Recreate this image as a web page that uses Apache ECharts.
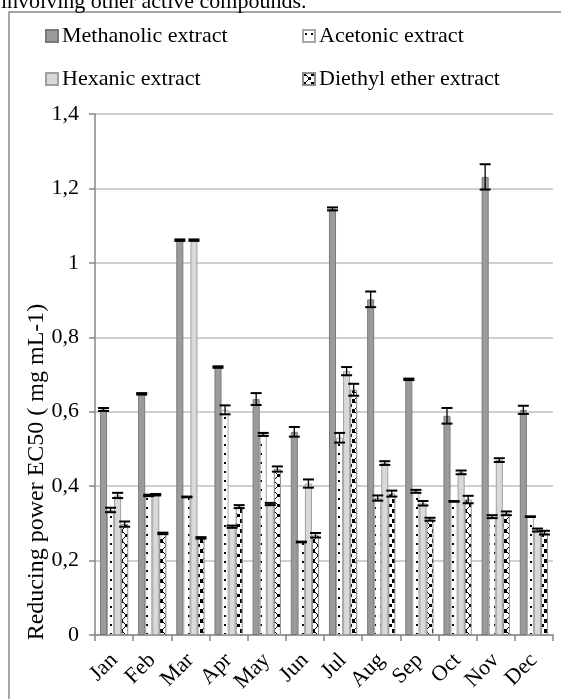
<!DOCTYPE html>
<html>
<head>
<meta charset="utf-8">
<script src="https://cdn.jsdelivr.net/npm/echarts@6/dist/echarts.min.js"></script>
<style>
html,body{margin:0;padding:0;background:#fff;}
#chart{width:561px;height:699px;}
</style>
</head>
<body>
<div id="chart"></div>
<script>
const months = ['Jan','Feb','Mar','Apr','May','Jun','Jul','Aug','Sep','Oct','Nov','Dec'];
const seriesNames = ['Methanolic extract','Acetonic extract','Hexanic extract','Diethyl ether extract'];
const methanolic    = [0.606, 0.648, 1.061, 0.720, 0.634, 0.546, 1.145, 0.902, 0.687, 0.589, 1.231, 0.605];
const methanolicErr = [0.004, 0.002, 0.002, 0.002, 0.016, 0.013, 0.004, 0.021, 0.002, 0.021, 0.034, 0.011];
const acetonic      = [0.336, 0.375, 0.371, 0.605, 0.539, 0.250, 0.530, 0.368, 0.386, 0.359, 0.318, 0.318];
const acetonicErr   = [0.006, 0.002, 0.001, 0.012, 0.004, 0.001, 0.013, 0.007, 0.004, 0.001, 0.004, 0.001];
const hexanic       = [0.375, 0.377, 1.061, 0.291, 0.352, 0.407, 0.709, 0.462, 0.354, 0.437, 0.470, 0.282];
const hexanicErr    = [0.007, 0.002, 0.002, 0.003, 0.003, 0.011, 0.011, 0.005, 0.006, 0.005, 0.005, 0.004];
const diethyl       = [0.298, 0.273, 0.261, 0.345, 0.446, 0.268, 0.659, 0.380, 0.311, 0.364, 0.327, 0.275];
const diethylErr    = [0.007, 0.002, 0.002, 0.004, 0.007, 0.006, 0.016, 0.008, 0.004, 0.010, 0.005, 0.005];
const yTickLabels = ['0','0,2','0,4','0,6','0,8','1','1,2','1,4'];
const yTitle = 'Reducing power EC50 ( mg mL-1)';
const topText = 'involving other active compounds.';

const values = [methanolic, acetonic, hexanic, diethyl];
const errors = [methanolicErr, acetonicErr, hexanicErr, diethylErr];

function makePattern(kind){
  const c = document.createElement('canvas');
  const ctx = c.getContext('2d');
  if(kind === 'dots'){
    c.width = 6; c.height = 9;
    ctx.fillStyle = '#fff'; ctx.fillRect(0,0,6,9);
    ctx.fillStyle = '#000'; ctx.fillRect(2,3,2,2);
  } else {
    c.width = 8; c.height = 10;
    ctx.fillStyle = '#fff'; ctx.fillRect(0,0,8,10);
    ctx.fillStyle = '#000';
    ctx.fillRect(0,0,3,3); ctx.fillRect(0,9,3,1);
    ctx.fillRect(5,4,3,3);
    ctx.fillRect(3,2,1,1); ctx.fillRect(4,3,1,1);
    ctx.fillRect(4,7,1,1); ctx.fillRect(3,8,1,1);
  }
  return {image: c, repeat: 'repeat'};
}

const styles = [
  {color:'#9b9b9b', borderColor:'#7a7a7a', borderWidth:1},
  {color: makePattern('dots'), borderColor:'#a6a6a6', borderWidth:1},
  {color:'#d9d9d9', borderColor:'#a0a0a0', borderWidth:1},
  {color: makePattern('zig'), borderColor:'#8c8c8c', borderWidth:1}
];

const GAP = 0.26;
const series = [];
for(let k=0;k<4;k++){
  series.push({
    name: seriesNames[k], type:'bar', data: values[k],
    barGap:'0%', barCategoryGap: (GAP*100)+'%',
    itemStyle: styles[k], emphasis:{disabled:true}, z:2
  });
}
for(let k=0;k<4;k++){
  series.push({
    type:'custom', silent:true, z:5,
    data: values[k].map((v,i)=>[i, v, errors[k][i]]),
    renderItem: function(params, api){
      const i = api.value(0), v = api.value(1), e = api.value(2);
      const band = api.size([1,0])[0];
      const bw = band*(1-GAP)/4;
      const off = (k-1.5)*bw;
      const top = api.coord([i, v+e]);
      const bot = api.coord([i, v-e]);
      const x = top[0] + off;
      const cap = 5.5;
      const st = {stroke:'#000', lineWidth:1.3, fill:null};
      return {type:'group', children:[
        {type:'line', shape:{x1:x, y1:top[1], x2:x, y2:bot[1]}, style:st},
        {type:'line', shape:{x1:x-cap, y1:top[1], x2:x+cap, y2:top[1]}, style:{stroke:'#000', lineWidth:2}},
        {type:'line', shape:{x1:x-cap, y1:bot[1], x2:x+cap, y2:bot[1]}, style:{stroke:'#000', lineWidth:2}}
      ]};
    }
  });
}

const font = '"Liberation Serif", "Times New Roman", serif';
function legendAt(name, left, top){
  return {data:[name], left:left, top:top, padding:0, itemWidth:12, itemHeight:12, itemGap:4,
    selectedMode:false, icon:'rect',
    textStyle:{fontFamily:font, fontSize:22, color:'#000', padding:[0,0,0,-1]}};
}

const chart = echarts.init(document.getElementById('chart'), null, {renderer:'canvas'});
chart.setOption({
  animation:false,
  backgroundColor:'#fff',
  grid:{left:95, right:8, top:114, bottom:64, containLabel:false},
  legend:[
    legendAt(seriesNames[0], 45, 25),
    legendAt(seriesNames[1], 302, 25),
    legendAt(seriesNames[2], 45, 68),
    legendAt(seriesNames[3], 302, 68)
  ],
  xAxis:{
    type:'category', data: months,
    axisLine:{show:true, lineStyle:{color:'#868686', width:1.5}},
    axisTick:{show:true, length:6, lineStyle:{color:'#868686', width:1.5}},
    axisLabel:{rotate:45, interval:0, margin:22, fontFamily:font, fontSize:22, color:'#000'},
    splitLine:{show:false}
  },
  yAxis:{
    type:'value', min:0, max:1.4, interval:0.2,
    axisLine:{show:true, lineStyle:{color:'#868686', width:1.5}},
    axisTick:{show:true, length:6, lineStyle:{color:'#868686', width:1.5}},
    axisLabel:{margin:16, fontFamily:font, fontSize:22, color:'#000',
      formatter: function(v){ return yTickLabels[Math.round(v/0.2)]; }},
    splitLine:{show:true, lineStyle:{color:'#c0c0c0', width:1.5}}
  },
  graphic:[
    {type:'rect', shape:{x:9, y:12, width:700, height:800}, style:{fill:null, stroke:'#888', lineWidth:1.5}, silent:true},
    {type:'text', x:1, y:13, style:{text: topText, font:'22px '+font, fill:'#000', verticalAlign:'bottom', align:'left'}, silent:true},
    {type:'text', x:37, y:472, rotation:Math.PI/2, style:{text: yTitle, font:'24px '+font, fill:'#000', align:'center', verticalAlign:'middle'}, silent:true}
  ],
  series: series
});
</script>
</body>
</html>
